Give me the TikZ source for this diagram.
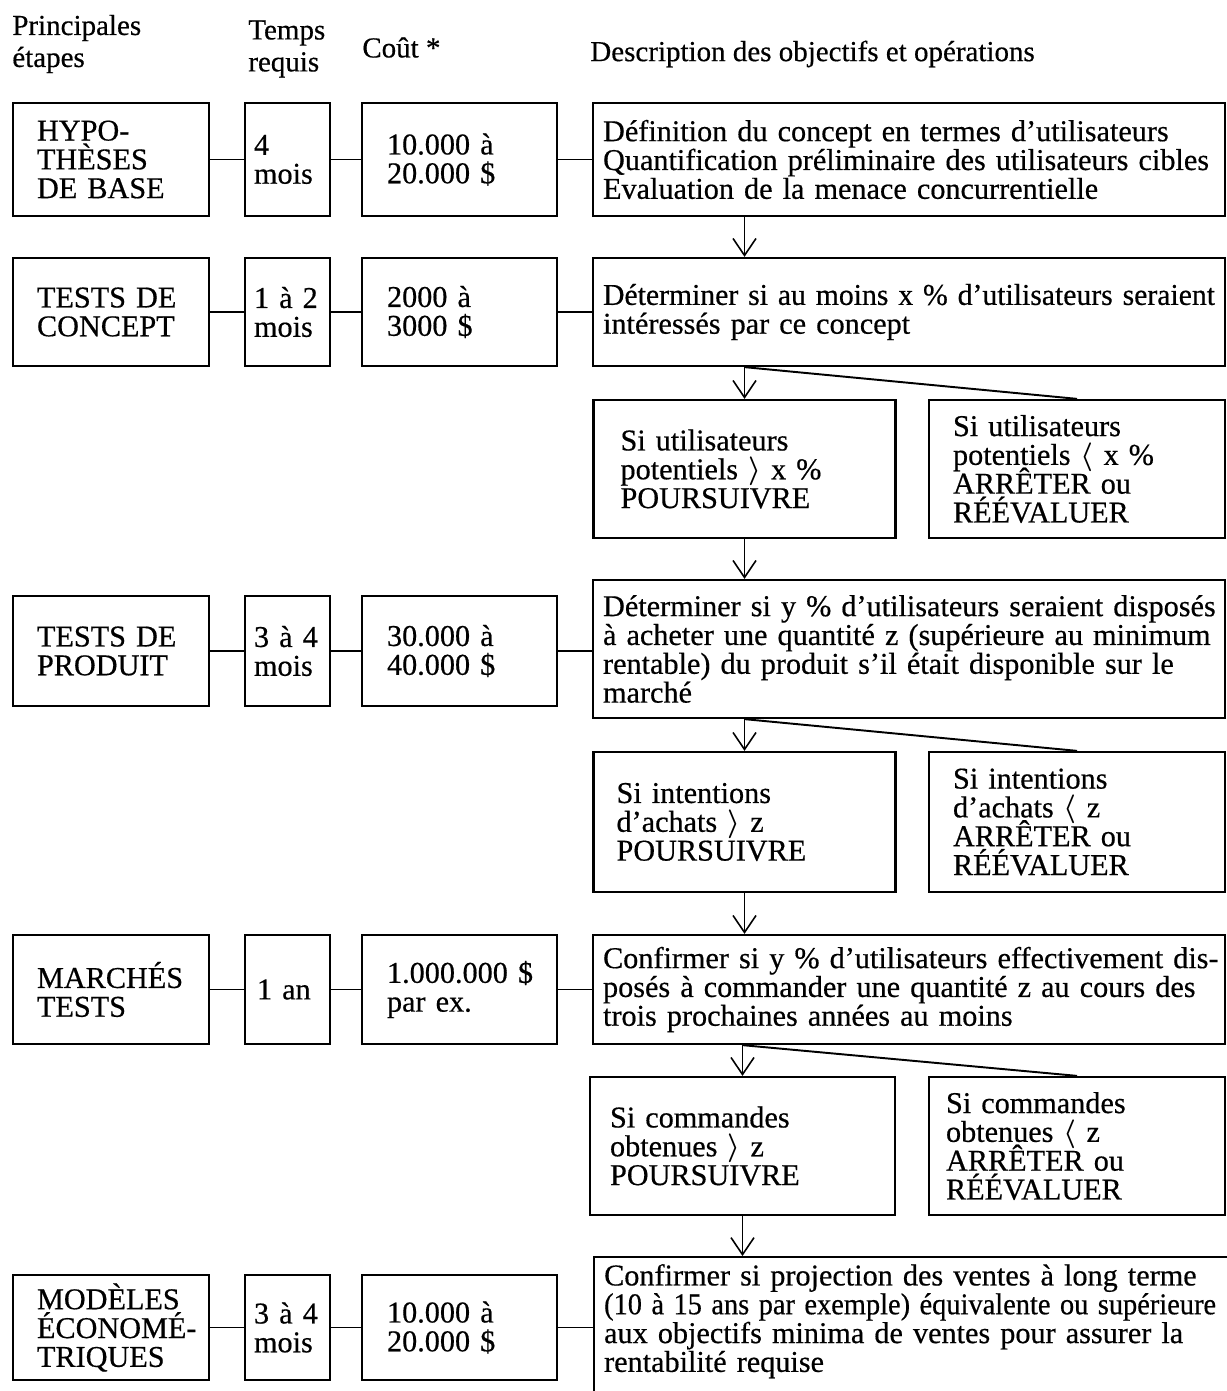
\documentclass[tikz,border=0pt]{standalone}
\usepackage{fontspec}
\setmainfont{Liberation Serif}[FakeBold=0.5]
\usepackage{graphicx}
\usetikzlibrary{arrows.meta}
\newlength\linelen
\setlength\linelen{12.24cm}
\newcommand\bodyfont{\fontsize{17.2}{16.4}\selectfont\lineskiplimit=-30pt\parindent=0pt\hyphenpenalty=10000\exhyphenpenalty=10000}
\newcommand\headfont{\fontsize{16.5}{18.2}\selectfont\lineskiplimit=-30pt}
\newcommand\gtsign{\smash{\raisebox{.05ex}{\scalebox{.95}{\boldmath$\rangle$}}}}
\newcommand\ltsign{\smash{\raisebox{.05ex}{\scalebox{.95}{\boldmath$\langle$}}}}
\newcommand\fullline[1]{\makebox[\linelen][s]{#1}}
\newcommand\tightline[1]{\resizebox{\linelen}{\height}{#1}}
\tikzset{
  box/.style={draw, line width=1.3pt, inner ysep=0pt, align=left, font=\bodyfont},
  stepbox/.style={box, text width=2.96cm, inner xsep=0.48cm, minimum height=#1},
  timebox/.style={box, text width=1.34cm, inner xsep=0.18cm, minimum height=#1},
  costbox/.style={box, text width=2.9cm, inner xsep=0.5cm, minimum height=#1},
  descbox/.style={box, text width=12.24cm, inner xsep=0.2cm, minimum height=#1},
  okbox/.style={box, text width=4.96cm, inner xsep=0.54cm, minimum height=#1},
  stopbox/.style={box, text width=4.96cm, inner xsep=0.48cm, minimum height=#1},
  head/.style={inner sep=0pt, align=left, font=\headfont, anchor=west},
  link/.style={line width=1.1pt},
  flow/.style={line width=0.9pt, -{Straight Barb[length=0.34cm,width=0.46cm]}}
}
\begin{document}
\begin{tikzpicture}[x=0.02cm, y=-0.02cm]
\useasboundingbox (0,0) rectangle (1226,1391);
\node[head] (hstep) at (12,44) {Principales\\étapes};
\node[head] (htime) at (248,49) {Temps\\requis};
\node[head] (hcost) at (362,47.5) {Coût *};
\node[head] (hdesc) at (590,54) {Description des objectifs et opérations};

\node[stepbox=2.26cm] (s1) at (111,159.5) {HYPO-\\THÈSES\\DE BASE};
\node[timebox=2.26cm] (t1) at (287.5,159.5) {4\\mois};
\node[costbox=2.26cm] (c1) at (459.5,159.5) {10.000 à\\20.000 \$};
\node[descbox=2.26cm] (d1) at (909,159.5) {Définition du concept en termes d'utilisateurs\\Quantification préliminaire des utilisateurs cibles\\Evaluation de la menace concurrentielle};

\node[stepbox=2.16cm] (s2) at (111,312) {TESTS DE\\CONCEPT};
\node[timebox=2.16cm] (t2) at (287.5,312) {1 à 2\\mois};
\node[costbox=2.16cm] (c2) at (459.5,312) {2000 à\\3000 \$};
\node[descbox=2.16cm] (d2) at (909,312) {\tightline{Déterminer si au moins x \% d'utilisateurs seraient}\\intéressés par ce concept};

\node[okbox=2.76cm] (bl1) at (744.5,469) {Si utilisateurs\\potentiels \gtsign{} x \%\\POURSUIVRE};
\node[stopbox=2.76cm] (br1) at (1077,469) {Si utilisateurs\\potentiels \ltsign{} x \%\\ARRÊTER ou\\RÉÉVALUER};

\node[stepbox=2.2cm] (s3) at (111,651) {TESTS DE\\PRODUIT};
\node[timebox=2.2cm] (t3) at (287.5,651) {3 à 4\\mois};
\node[costbox=2.2cm] (c3) at (459.5,651) {30.000 à\\40.000 \$};
\node[descbox=2.76cm] (d3) at (909,649) {\fullline{Déterminer si y \% d'utilisateurs seraient disposés}\\\fullline{à acheter une quantité z (supérieure au minimum}\\\fullline{rentable) du produit s'il était disponible sur le}\\marché};

\node[okbox=2.8cm, inner xsep=0.46cm, text width=5.12cm] (bl2) at (744.5,822) {Si intentions\\d'achats \gtsign{} z\\POURSUIVRE};
\node[stopbox=2.8cm] (br2) at (1077,822) {Si intentions\\d'achats \ltsign{} z\\ARRÊTER ou\\RÉÉVALUER};

\node[stepbox=2.18cm] (s4) at (111,989.5) {MARCHÉS\\TESTS};
\node[timebox=2.18cm, inner xsep=0.24cm, text width=1.22cm] (t4) at (287.5,989.5) {1 an};
\node[costbox=2.18cm] (c4) at (459.5,989.5) {1.000.000~\$\\par ex.};
\node[descbox=2.18cm] (d4) at (909,989.5) {\fullline{Confirmer si y \% d'utilisateurs effectivement dis-}\\\fullline{posés à commander une quantité z au cours des}\\trois prochaines années au moins};

\node[okbox=2.76cm, inner xsep=0.4cm, text width=5.3cm] (bl3) at (742.5,1146) {Si commandes\\obtenues \gtsign{} z\\POURSUIVRE};
\node[stopbox=2.76cm, inner xsep=0.34cm, text width=5.24cm] (br3) at (1077,1146) {Si commandes\\obtenues \ltsign{} z\\ARRÊTER ou\\RÉÉVALUER};

\node[stepbox=2.1cm] (s5) at (111,1327.5) {MODÈLES\\ÉCONOMÉ-\\TRIQUES};
\node[timebox=2.1cm] (t5) at (287.5,1327.5) {3 à 4\\mois};
\node[costbox=2.1cm] (c5) at (459.5,1327.5) {10.000 à\\20.000 \$};
\node[box, text width=12.6cm, inner xsep=0.2cm, inner ysep=0.14cm, anchor=north west] (d5) at (593,1256) {\fullline{Confirmer si projection des ventes à long terme}\\\tightline{(10 à 15 ans par exemple) équivalente ou supérieure}\\\fullline{aux objectifs minima de ventes pour assurer la}\\rentabilité requise\rule[-1.5cm]{0pt}{1.5cm}};

\foreach \r in {1,...,5}{
  \draw[link] (s\r.east) -- (t\r.west);
  \draw[link] (t\r.east) -- (c\r.west);
  \draw[link] (c\r.east) -- (c\r.east -| d\r.west);
}

\draw[flow] (d1.south -| bl1) -- (d2.north -| bl1);
\draw[flow] (d2.south -| bl1) -- (bl1.north);
\draw[link] (d2.south -| bl1) -- (br1.north);
\draw[flow] (bl1.south) -- (d3.north -| bl1);
\draw[flow] (d3.south -| bl2) -- (bl2.north);
\draw[link] (d3.south -| bl2) -- (br2.north);
\draw[flow] (bl2.south) -- (d4.north -| bl2);
\draw[flow] (d4.south -| bl3) -- (bl3.north);
\draw[link] (d4.south -| bl3) -- (br3.north);
\draw[flow] (bl3.south) -- (d5.north -| bl3);
\end{tikzpicture}
\end{document}
